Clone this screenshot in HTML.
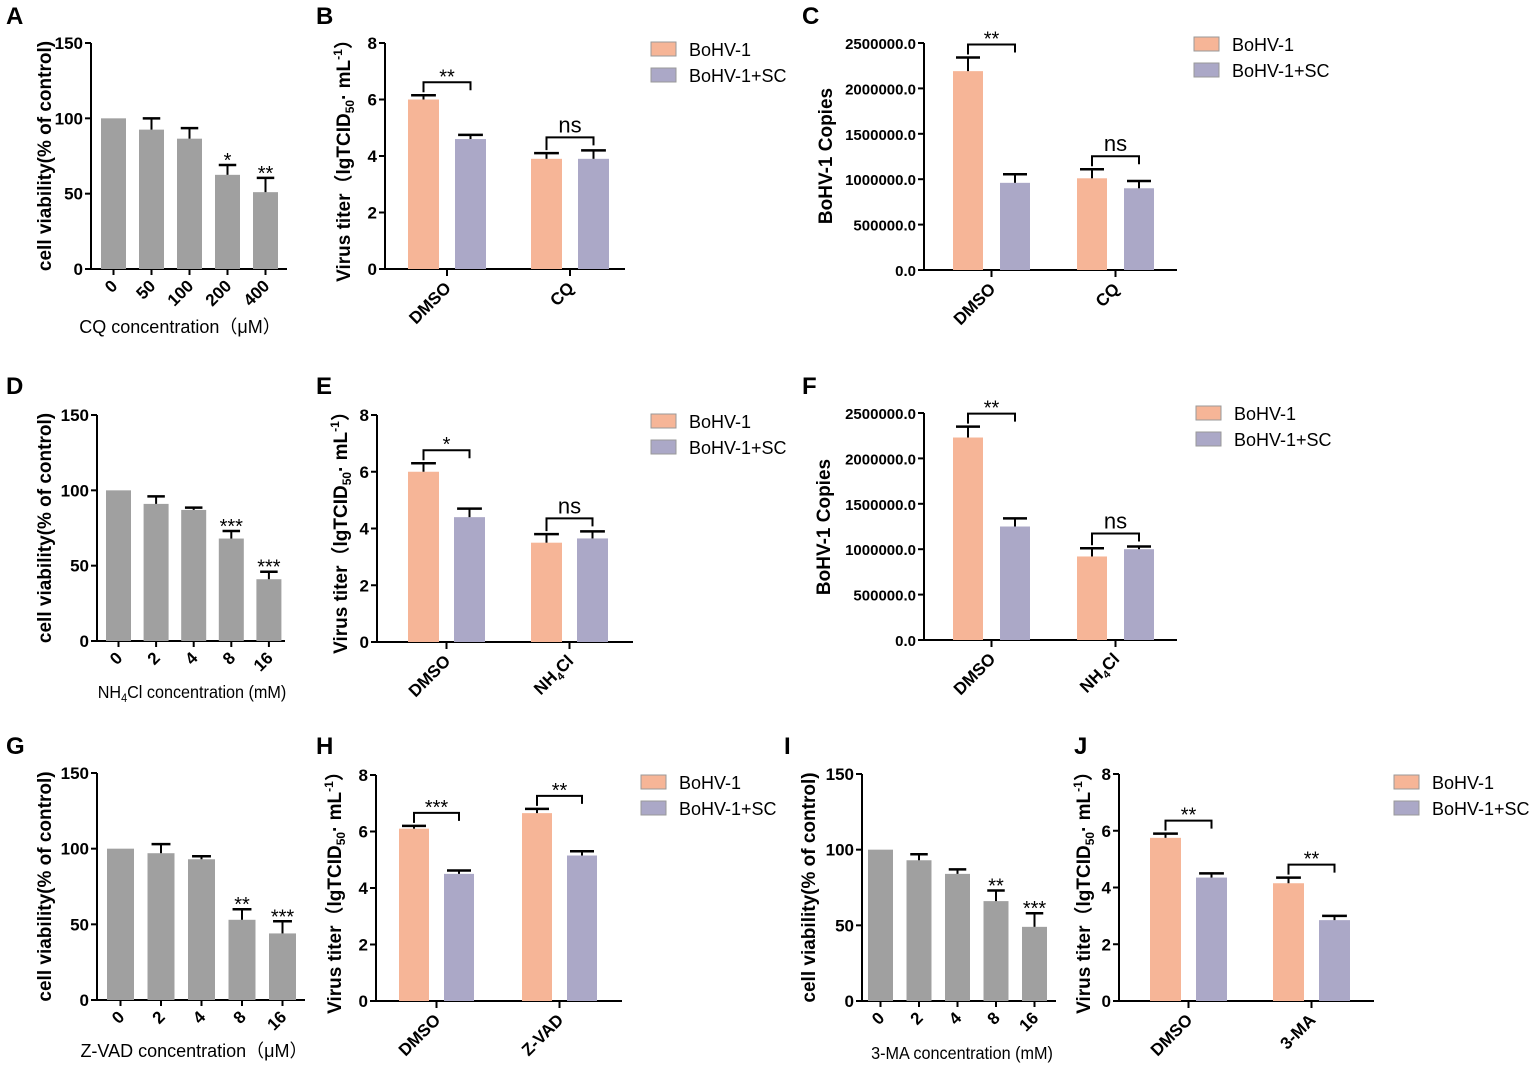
<!DOCTYPE html>
<html><head><meta charset="utf-8"><style>
html,body{margin:0;padding:0;background:#fff;}
svg{display:block;font-family:"Liberation Sans","Noto Sans CJK SC",sans-serif;}
</style></head><body>
<svg id="fig" width="1535" height="1068" viewBox="0 0 1535 1068" xmlns="http://www.w3.org/2000/svg"></svg>
<script>
// ===== data =====
const A_cats=["0","50","100","200","400"];
const A_vals=[100,92.5,86.5,62.5,51];
const A_errs=[0,7.5,7,6.5,9.5];
const A_sig=["","","","*","**"];
const B_groups=["DMSO","CQ"];
const B_s1=[6.0,3.9];const B_s1err=[0.15,0.2];
const B_s2=[4.6,3.9];const B_s2err=[0.15,0.3];
const B_sig=["**","ns"];
const C_groups=["DMSO","CQ"];
const C_s1=[2190000,1010000];const C_s1err=[150000,100000];
const C_s2=[960000,900000];const C_s2err=[95000,80000];
const C_sig=["**","ns"];
const D_cats=["0","2","4","8","16"];
const D_vals=[100,91,87,68,41];
const D_errs=[0,5,1.5,5,5];
const D_sig=["","","","***","***"];
const E_groups=["DMSO","NH4Cl"];
const E_s1=[6.0,3.5];const E_s1err=[0.3,0.3];
const E_s2=[4.4,3.65];const E_s2err=[0.3,0.25];
const E_sig=["*","ns"];
const F_groups=["DMSO","NH4Cl"];
const F_s1=[2230000,920000];const F_s1err=[120000,90000];
const F_s2=[1250000,1000000];const F_s2err=[90000,30000];
const F_sig=["**","ns"];
const G_cats=["0","2","4","8","16"];
const G_vals=[100,97,93,53,44];
const G_errs=[0,6,2,7,8];
const G_sig=["","","","**","***"];
const H_groups=["DMSO","Z-VAD"];
const H_s1=[6.1,6.65];const H_s1err=[0.1,0.15];
const H_s2=[4.5,5.15];const H_s2err=[0.12,0.15];
const H_sig=["***","**"];
const I_cats=["0","2","4","8","16"];
const I_vals=[100,93,84,66,49];
const I_errs=[0,4,3,7,9];
const I_sig=["","","","**","***"];
const J_groups=["DMSO","3-MA"];
const J_s1=[5.75,4.15];const J_s1err=[0.15,0.2];
const J_s2=[4.35,2.85];const J_s2err=[0.15,0.15];
const J_sig=["**","**"];
const pctTicks=[0,50,100,150];
const titerTicks=[0,2,4,6,8];
const copyTicks=[0,500000,1000000,1500000,2000000,2500000];

// ===== drawing =====
const NS="http://www.w3.org/2000/svg";
const svg=document.getElementById('fig');
const GRAY="#a0a0a0",OR="#f6b597",PU="#aba8c7";
function mk(tag,attrs,parent,txt){const e=document.createElementNS(NS,tag);for(const k in attrs)e.setAttribute(k,attrs[k]);if(txt!==undefined)e.textContent=txt;(parent||svg).appendChild(e);return e;}

function panelBase(p,ticks,fmt){
  const g=mk('g',{});
  
  
  const sy=v=>p.y0-(v/p.max)*(p.y0-p.y1);
  const lt=mk('text',{x:p.lx,y:p.ly,'font-size':24,'font-weight':'bold',fill:'#000'},g,p.id);
  
  
  const ya=mk('line',{x1:p.ax,y1:p.y1,x2:p.ax,y2:p.y0,stroke:'#000','stroke-width':2},g);
  
  
  const xa=mk('line',{x1:p.ax-1,y1:p.y0,x2:p.xe,y2:p.y0,stroke:'#000','stroke-width':2},g);
  
  
  ticks.forEach(t=>{const y=sy(t);
    mk('line',{x1:p.ax-6,y1:y,x2:p.ax,y2:y,stroke:'#000','stroke-width':2},g);
    const tl=mk('text',{x:p.ax-8,y:y+6,'font-size':p.tfs||17,'font-weight':'bold','text-anchor':'end'},g,fmt(t));
    
    
  });
  return {g,sy};
}
function ytitle(g,x,y,parts,fs){
  const t=mk('text',{transform:`translate(${x},${y}) rotate(-90)`,'text-anchor':'middle','font-size':fs||19,'font-weight':'bold'},g);
  
  
  parts.forEach(pt=>{const s=mk('tspan',pt.a||{},t,pt.t);});
}
function titerTitle(g,x,y){
  ytitle(g,x,y,[{t:'Virus titer（lgTCID'},{t:'50',a:{'font-size':12,dy:4}},{t:'· mL',a:{dy:-4}},{t:'-1',a:{'font-size':12,dy:-8}},{t:'）',a:{dy:8}}]);
}
function xlabel(g,cx,y0,txt,sub){
  const t=mk('text',{transform:`translate(${cx+5},${y0+18}) rotate(-45)`,'text-anchor':'end','font-size':17,'font-weight':'bold'},g);
  
  
  if(sub){mk('tspan',{},t,'NH');mk('tspan',{'font-size':11,dy:4},t,'4');mk('tspan',{dy:-4},t,'Cl');}
  else t.textContent=txt;
}
function errbar(g,cx,yv,ye,w){
  mk('line',{x1:cx,y1:yv,x2:cx,y2:ye,stroke:'#000','stroke-width':2},g);
  mk('line',{x1:cx-w,y1:ye,x2:cx+w,y2:ye,stroke:'#000','stroke-width':2.5},g);
}
function singlePanel(p,cats,vals,errs,sig){
  const {g,sy}=panelBase(p,pctTicks,t=>String(t));
  cats.forEach((c,i)=>{
    const x=p.ax+p.off+i*p.step, cx=x+p.bw/2;
    const r=mk('rect',{x:x,y:sy(vals[i]),width:p.bw,height:p.y0-sy(vals[i]),fill:GRAY},g);
    
    
    if(errs[i]>0)errbar(g,cx,sy(vals[i]),sy(vals[i]+errs[i]),p.bw*0.35);
    mk('line',{x1:cx,y1:p.y0,x2:cx,y2:p.y0+6,stroke:'#000','stroke-width':2},g);
    xlabel(g,cx,p.y0,c);
    if(sig[i]){const s=mk('text',{x:cx,y:sy(vals[i]+errs[i])+2,'text-anchor':'middle','font-size':20},g,sig[i]);
      
      }
  });
  ytitle(g,p.ytx,(p.y0+p.y1)/2,[{t:'cell viability(% of control)'}]);
  const xt=mk('text',{x:p.xtx,y:p.xty,'text-anchor':'middle','font-size':18,transform:p.xtcond?`translate(${p.xtx},0) scale(0.9,1) translate(${-p.xtx},0)`:''},g);
  
  
  if(p.xtsub){mk('tspan',{},xt,'NH');mk('tspan',{'font-size':12,dy:4},xt,'4');mk('tspan',{dy:-4},xt,'Cl concentration (mM)');}
  else xt.textContent=p.xt;
}
function groupPanel(p,groups,s1,e1,s2,e2,sig,ticks,fmt){
  const {g,sy}=panelBase(p,ticks,fmt);
  groups.forEach((c,i)=>{
    const x1=p.ax+p.off+i*p.step, x2=x1+p.gap;
    const c1=x1+p.bw/2,c2=x2+p.bw/2;
    const r1=mk('rect',{x:x1,y:sy(s1[i]),width:p.bw,height:p.y0-sy(s1[i]),fill:OR},g);
    
    
    const r2=mk('rect',{x:x2,y:sy(s2[i]),width:p.bw,height:p.y0-sy(s2[i]),fill:PU},g);
    
    
    const t1=sy(s1[i]+e1[i]),t2=sy(s2[i]+e2[i]);
    errbar(g,c1,sy(s1[i]),t1,p.bw*0.4);
    errbar(g,c2,sy(s2[i]),t2,p.bw*0.4);
    const by=Math.min(t1,t2)-13;
    const br=mk('path',{d:`M${c1} ${t1-3} V${by} H${c2} V${by+8}`,fill:'none',stroke:'#000','stroke-width':2},g);
    
    
    const ns=sig[i]==='ns';
    const st=mk('text',{x:(c1+c2)/2,y:ns?by-5:by+1,'text-anchor':'middle','font-size':ns?22:20},g,sig[i]);
    
    
    const gc=(x1+x2+p.bw)/2;
    mk('line',{x1:gc,y1:p.y0,x2:gc,y2:p.y0+7,stroke:'#000','stroke-width':2},g);
    xlabel(g,gc,p.y0+2,c,c==='NH4Cl');
  });
  // legend
  [[OR,'BoHV-1'],[PU,'BoHV-1+SC']].forEach((l,k)=>{
    const lg=mk('g',{},g);
    
    
    mk('rect',{x:p.legx,y:p.legy+k*26-7,width:25,height:14,fill:l[0],stroke:'#999','stroke-width':1},lg);
    mk('text',{x:p.legx+38,y:p.legy+k*26+7,'font-size':18},lg,l[1]);
  });
}
const copyFmt=t=>t.toFixed(1);

singlePanel({id:'A',lx:6,ly:24,ax:91,y0:269,y1:43,xe:287,max:150,off:10,step:38,bw:25,ytx:51,xtx:180,xty:333,xt:'CQ concentration（μM）'},A_cats,A_vals,A_errs,A_sig);
groupPanel({id:'B',lx:316,ly:24,ax:385,y0:269,y1:43,xe:625,max:8,off:23,gap:47,step:123,bw:31,legx:651,legy:49},B_groups,B_s1,B_s1err,B_s2,B_s2err,B_sig,titerTicks,String);
titerTitle(svg.lastChild,350,156);
groupPanel({id:'C',lx:802,ly:24,ax:924,y0:270,y1:43,xe:1177,max:2500000,off:29,gap:47,step:124,bw:30,legx:1194,legy:44,tfs:15},C_groups,C_s1,C_s1err,C_s2,C_s2err,C_sig,copyTicks,copyFmt);
ytitle(svg.lastChild,832,156,[{t:'BoHV-1 Copies'}]);

singlePanel({id:'D',lx:6,ly:394,ax:97,y0:641,y1:415,xe:285,max:150,off:9,step:37.6,bw:25,ytx:51,xtx:192,xty:698,xtsub:true,xtcond:true},D_cats,D_vals,D_errs,D_sig);
groupPanel({id:'E',lx:316,ly:394,ax:377,y0:642,y1:415,xe:633,max:8,off:31,gap:46,step:123,bw:31,legx:651,legy:421},E_groups,E_s1,E_s1err,E_s2,E_s2err,E_sig,titerTicks,String);
titerTitle(svg.lastChild,347,528);
groupPanel({id:'F',lx:802,ly:394,ax:924,y0:640,y1:413,xe:1177,max:2500000,off:29,gap:47,step:124,bw:30,legx:1196,legy:413,tfs:15},F_groups,F_s1,F_s1err,F_s2,F_s2err,F_sig,copyTicks,copyFmt);
ytitle(svg.lastChild,830,527,[{t:'BoHV-1 Copies'}]);

singlePanel({id:'G',lx:6,ly:754,ax:97,y0:1000,y1:773,xe:305,max:150,off:10,step:40.5,bw:27,ytx:51,xtx:194,xty:1057,xt:'Z-VAD concentration（μM）'},G_cats,G_vals,G_errs,G_sig);
groupPanel({id:'H',lx:316,ly:754,ax:376,y0:1001,y1:775,xe:622,max:8,off:23,gap:45,step:123,bw:30,legx:641,legy:782},H_groups,H_s1,H_s1err,H_s2,H_s2err,H_sig,titerTicks,String);
titerTitle(svg.lastChild,341,888);
singlePanel({id:'I',lx:784,ly:754,ax:862,y0:1001,y1:774,xe:1056,max:150,off:6,step:38.5,bw:25,ytx:815,xtx:962,xty:1059,xt:'3-MA concentration (mM)',xtcond:true},I_cats,I_vals,I_errs,I_sig);
groupPanel({id:'J',lx:1074,ly:754,ax:1119,y0:1001,y1:774,xe:1374,max:8,off:31,gap:46,step:123,bw:31,legx:1394,legy:782},J_groups,J_s1,J_s1err,J_s2,J_s2err,J_sig,titerTicks,String);
titerTitle(svg.lastChild,1090,888);
</script>
</body></html>
